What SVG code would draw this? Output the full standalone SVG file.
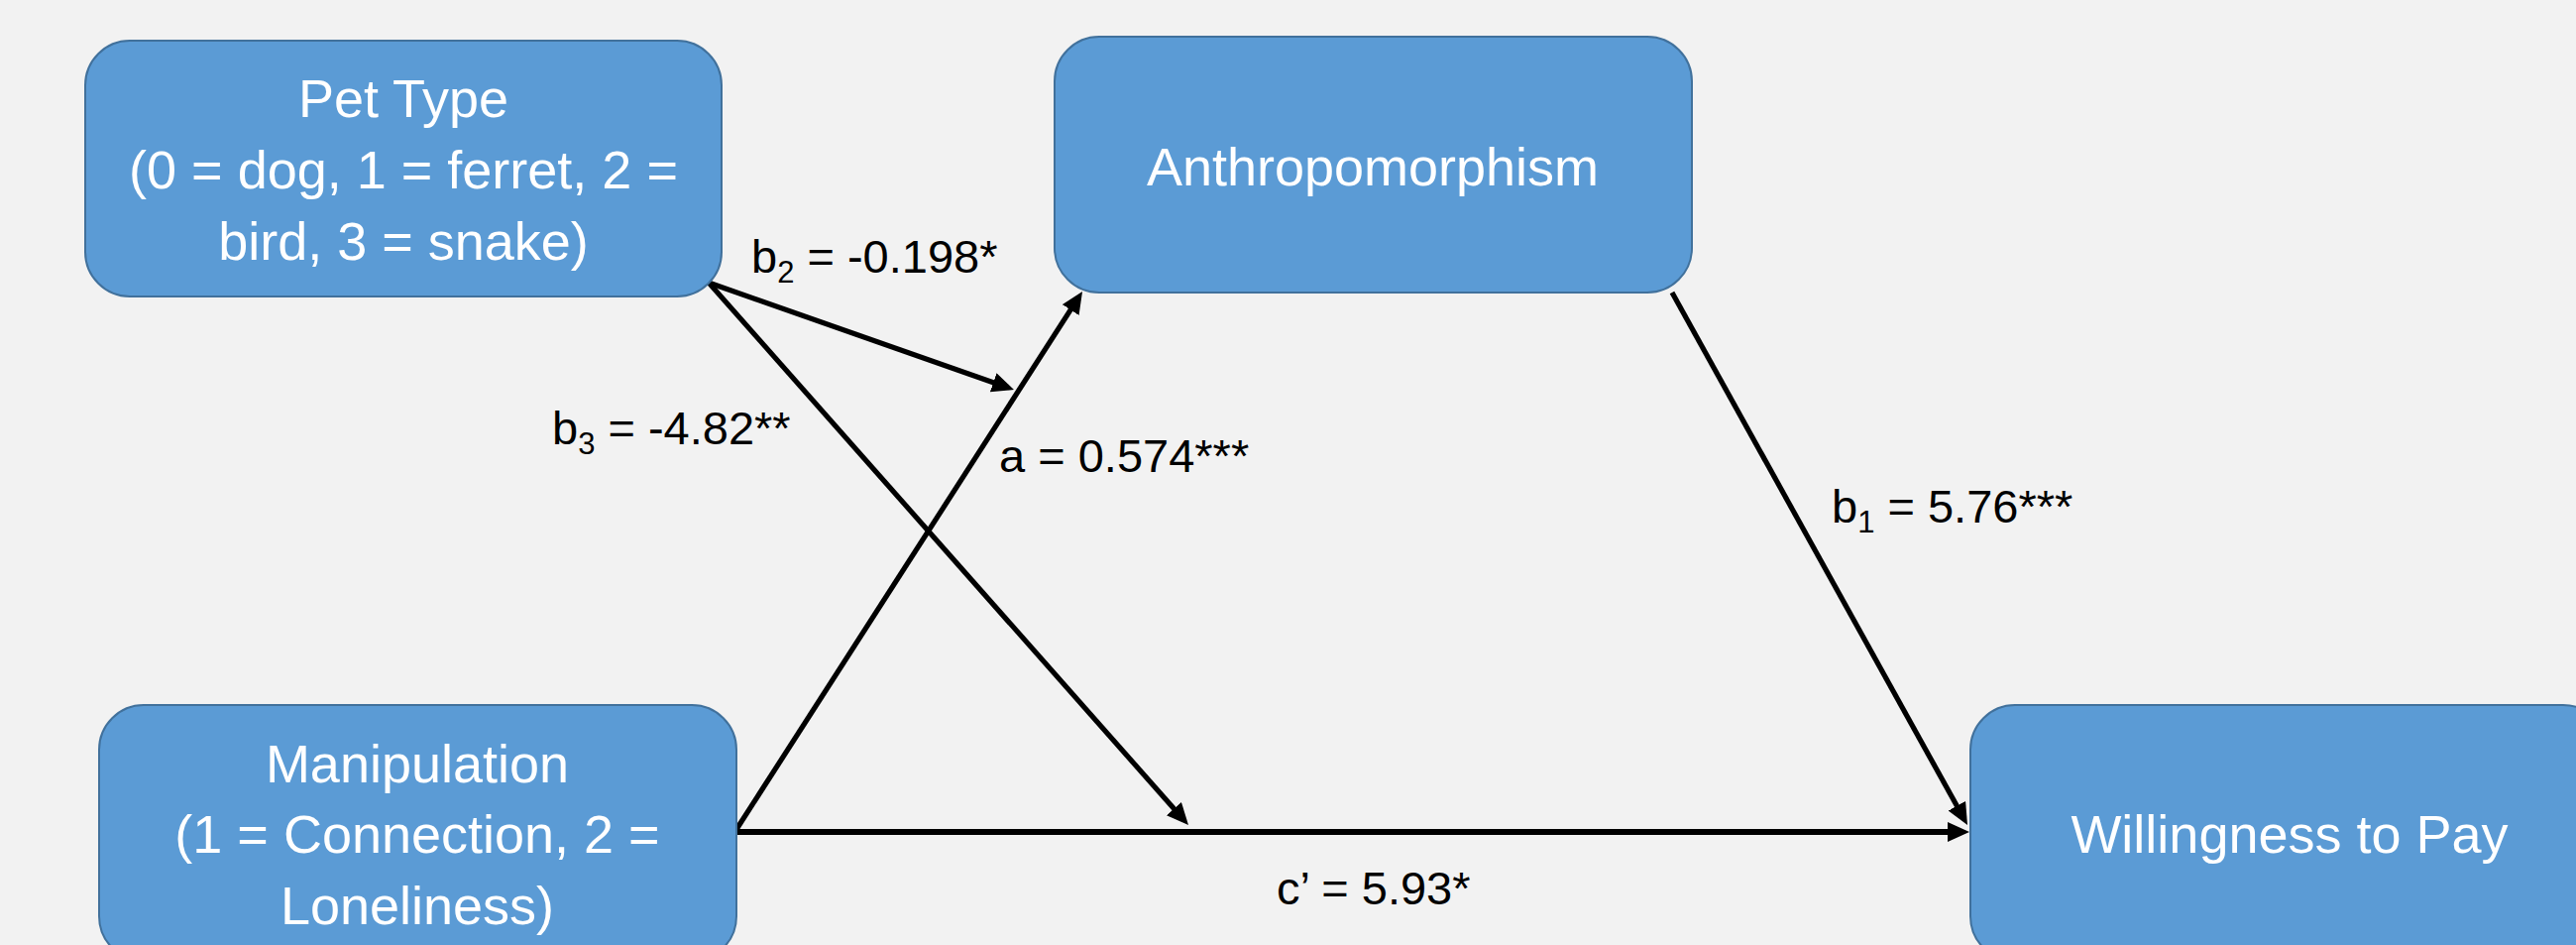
<svg xmlns="http://www.w3.org/2000/svg" width="2599" height="953" viewBox="0 0 2599 953">
<style>
.node rect{fill:#5B9BD5;stroke:#41719C;stroke-width:2}
.node text{fill:#FFFFFF;font-family:"Liberation Sans",Arial,sans-serif;font-size:54px;text-anchor:middle}
.edge{stroke:#000;stroke-width:5.2;fill:none;marker-end:url(#arrow)}
.lbl{fill:#000;font-family:"Liberation Sans",Arial,sans-serif;font-size:47px}
.sub{font-size:31px}
</style>
<defs>
<marker id="arrow" markerUnits="userSpaceOnUse" markerWidth="24" markerHeight="22" refX="9" refY="10" orient="auto">
<path d="M0,0 L22,10 L0,20 z" fill="#000"/>
</marker>
</defs>
<rect x="0" y="0" width="2599" height="953" fill="#F2F2F2"/>
<g id="connectors">
<line class="edge" x1="715" y1="285" x2="1010.7" y2="388.7"/>
<line class="edge" x1="715" y1="285" x2="1190.4" y2="822.3"/>
<line class="edge" x1="742" y1="838" x2="1085" y2="304.9"/>
<line class="edge" x1="742" y1="839" x2="1974" y2="839" style="stroke-width:6"/>
<line class="edge" x1="1687" y1="295" x2="1978.7" y2="820.6"/>
</g>
<g id="node-pettype" class="node">
<rect x="86" y="41" width="642" height="258" rx="45" ry="45"/>
<text x="407" y="118">Pet Type</text>
<text x="407" y="190">(0 = dog, 1 = ferret, 2 =</text>
<text x="407" y="262">bird, 3 = snake)</text>
</g>
<g id="node-anthropomorphism" class="node">
<rect x="1064" y="37" width="643" height="258" rx="45" ry="45"/>
<text x="1385" y="187">Anthropomorphism</text>
</g>
<g id="node-manipulation" class="node">
<rect x="100" y="711" width="643" height="258" rx="45" ry="45"/>
<text x="421" y="789">Manipulation</text>
<text x="421" y="860">(1 = Connection, 2 =</text>
<text x="421" y="932">Loneliness)</text>
</g>
<g id="node-wtp" class="node">
<rect x="1988" y="711" width="643" height="258" rx="45" ry="45"/>
<text x="2310" y="860">Willingness to Pay</text>
</g>
<g id="labels">
<text class="lbl" x="758" y="275">b<tspan class="sub" dy="10">2</tspan><tspan dy="-10"> = -0.198*</tspan></text>
<text class="lbl" x="557" y="448">b<tspan class="sub" dy="10">3</tspan><tspan dy="-10"> = -4.82**</tspan></text>
<text class="lbl" x="1008" y="476">a = 0.574***</text>
<text class="lbl" x="1848" y="527">b<tspan class="sub" dy="10">1</tspan><tspan dy="-10"> = 5.76***</tspan></text>
<text class="lbl" x="1288" y="912">c’ = 5.93*</text>
</g>
</svg>
